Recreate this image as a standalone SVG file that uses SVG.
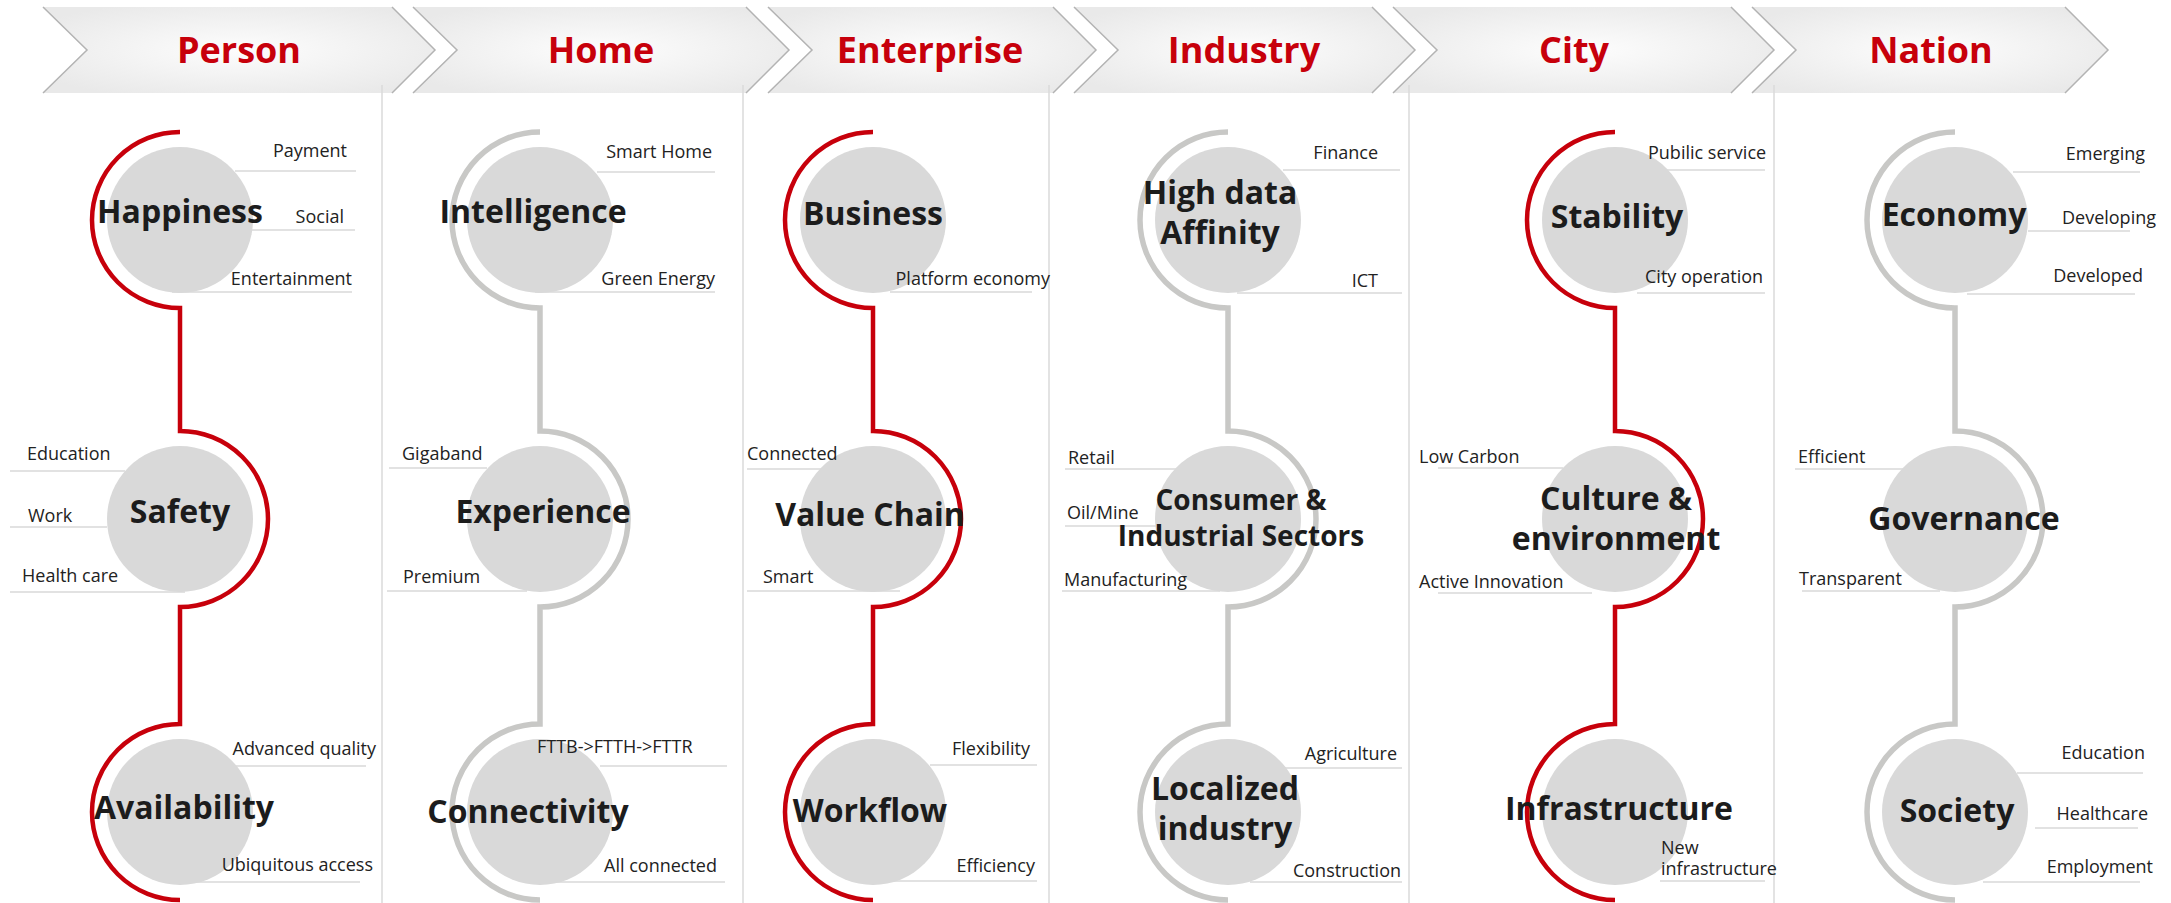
<svg xmlns="http://www.w3.org/2000/svg" width="2171" height="903" viewBox="0 0 2171 903">
<defs>
<radialGradient id="chev" cx="0.5" cy="0.5" r="0.6">
<stop offset="0" stop-color="#fdfdfd"/>
<stop offset="1" stop-color="#e9e9e9"/>
</radialGradient>
</defs>
<style>
.chev{fill:url(#chev);stroke:none}
.chevEdge{fill:none;stroke:#b3b3b3;stroke-width:1.5}
.hdr{font-family:"Open Sans","Liberation Sans",sans-serif;font-weight:700;font-size:36px;fill:#c7000b;text-anchor:middle}
.div{stroke:#dadada;stroke-width:1.5}
.red{fill:none;stroke:#c7000b;stroke-width:4.5}
.gray{fill:none;stroke:#c8c8c6;stroke-width:5.5}
.disc{fill:#d9d9d9}
.main{font-family:"Open Sans","Liberation Sans",sans-serif;font-weight:700;font-size:32px;fill:#1c1c1c;text-anchor:middle}
.main28{font-size:28px}
.lbl{font-family:"Open Sans","Liberation Sans",sans-serif;font-size:18px;fill:#222}
.end{text-anchor:end}
.ul{stroke:#d9d9d9;stroke-width:1.5}
</style>
<rect width="2171" height="903" fill="#ffffff"/>

<g id="headers">
<g id="hdr-person"><path class="chev" d="M43,7 L392,7 L435,50 L392,93 L43,93 L87,50 Z"/><path class="chevEdge" d="M43,7 L87,50 L43,93 M392,7 L435,50 L392,93"/><text class="hdr" x="239" y="63">Person</text></g>
<g id="hdr-home"><path class="chev" d="M413,7 L746,7 L789,50 L746,93 L413,93 L457,50 Z"/><path class="chevEdge" d="M413,7 L457,50 L413,93 M746,7 L789,50 L746,93"/><text class="hdr" x="601" y="63">Home</text></g>
<g id="hdr-enterprise"><path class="chev" d="M768,7 L1053,7 L1096,50 L1053,93 L768,93 L812,50 Z"/><path class="chevEdge" d="M768,7 L812,50 L768,93 M1053,7 L1096,50 L1053,93"/><text class="hdr" x="930" y="63">Enterprise</text></g>
<g id="hdr-industry"><path class="chev" d="M1074,7 L1372,7 L1415,50 L1372,93 L1074,93 L1118,50 Z"/><path class="chevEdge" d="M1074,7 L1118,50 L1074,93 M1372,7 L1415,50 L1372,93"/><text class="hdr" x="1244" y="63">Industry</text></g>
<g id="hdr-city"><path class="chev" d="M1393,7 L1731,7 L1774,50 L1731,93 L1393,93 L1437,50 Z"/><path class="chevEdge" d="M1393,7 L1437,50 L1393,93 M1731,7 L1774,50 L1731,93"/><text class="hdr" x="1574" y="63">City</text></g>
<g id="hdr-nation"><path class="chev" d="M1752,7 L2065,7 L2108,50 L2065,93 L1752,93 L1796,50 Z"/><path class="chevEdge" d="M1752,7 L1796,50 L1752,93 M2065,7 L2108,50 L2065,93"/><text class="hdr" x="1931" y="63">Nation</text></g>
</g>

<g id="dividers">
<line class="div" x1="382" y1="85" x2="382" y2="903"/>
<line class="div" x1="743" y1="85" x2="743" y2="903"/>
<line class="div" x1="1049" y1="85" x2="1049" y2="903"/>
<line class="div" x1="1409" y1="85" x2="1409" y2="903"/>
<line class="div" x1="1774" y1="85" x2="1774" y2="903"/>
</g>

<g id="connectors">
<path class="red" d="M180,132 A88,88 0 0 0 180,308 L180,431 A88,88 0 0 1 180,607 L180,724 A88,88 0 0 0 180,900"/>
<path class="gray" d="M540,132 A88,88 0 0 0 540,308 L540,431 A88,88 0 0 1 540,607 L540,724 A88,88 0 0 0 540,900"/>
<path class="red" d="M873,132 A88,88 0 0 0 873,308 L873,431 A88,88 0 0 1 873,607 L873,724 A88,88 0 0 0 873,900"/>
<path class="gray" d="M1228,132 A88,88 0 0 0 1228,308 L1228,431 A88,88 0 0 1 1228,607 L1228,724 A88,88 0 0 0 1228,900"/>
<path class="red" d="M1615,132 A88,88 0 0 0 1615,308 L1615,431 A88,88 0 0 1 1615,607 L1615,724 A88,88 0 0 0 1615,900"/>
<path class="gray" d="M1955,132 A88,88 0 0 0 1955,308 L1955,431 A88,88 0 0 1 1955,607 L1955,724 A88,88 0 0 0 1955,900"/>
</g>

<!-- Person -->
<g id="node-happiness">
<circle class="disc" cx="180" cy="220" r="73"/>
<line class="ul" x1="235" y1="171" x2="356" y2="171"/>
<line class="ul" x1="252" y1="230" x2="355" y2="230"/>
<line class="ul" x1="172" y1="292" x2="352" y2="292"/>
<text class="main" x="180" y="223">Happiness</text>
<text class="lbl end" x="347" y="157">Payment</text>
<text class="lbl end" x="344" y="223">Social</text>
<text class="lbl end" x="352" y="285">Entertainment</text>
</g>
<g id="node-safety">
<circle class="disc" cx="180" cy="519" r="73"/>
<line class="ul" x1="10" y1="471" x2="125" y2="471"/>
<line class="ul" x1="10" y1="527" x2="107" y2="527"/>
<line class="ul" x1="10" y1="592" x2="185" y2="592"/>
<text class="main" x="180" y="523">Safety</text>
<text class="lbl" x="27" y="460">Education</text>
<text class="lbl" x="28" y="522">Work</text>
<text class="lbl" x="22" y="582">Health care</text>
</g>
<g id="node-availability">
<circle class="disc" cx="180" cy="812" r="73"/>
<line class="ul" x1="235" y1="766" x2="366" y2="766"/>
<line class="ul" x1="192" y1="882" x2="360" y2="882"/>
<text class="main" x="184" y="819">Availability</text>
<text class="lbl end" x="376" y="755">Advanced quality</text>
<text class="lbl end" x="373" y="871">Ubiquitous access</text>
</g>

<!-- Home -->
<g id="node-intelligence">
<circle class="disc" cx="540" cy="220" r="73"/>
<line class="ul" x1="597" y1="172" x2="715" y2="172"/>
<line class="ul" x1="535" y1="292" x2="715" y2="292"/>
<text class="main" x="533" y="223">Intelligence</text>
<text class="lbl end" x="712" y="158">Smart Home</text>
<text class="lbl end" x="715" y="285">Green Energy</text>
</g>
<g id="node-experience">
<circle class="disc" cx="540" cy="519" r="73"/>
<line class="ul" x1="389" y1="468" x2="487" y2="468"/>
<line class="ul" x1="387" y1="591" x2="527" y2="591"/>
<text class="main" x="543" y="523">Experience</text>
<text class="lbl" x="402" y="460">Gigaband</text>
<text class="lbl" x="403" y="583">Premium</text>
</g>
<g id="node-connectivity">
<circle class="disc" cx="540" cy="812" r="73"/>
<line class="ul" x1="600" y1="766" x2="727" y2="766"/>
<line class="ul" x1="540" y1="882" x2="725" y2="882"/>
<text class="main" x="528" y="823">Connectivity</text>
<text class="lbl" x="537" y="753">FTTB-&gt;FTTH-&gt;FTTR</text>
<text class="lbl end" x="717" y="872">All connected</text>
</g>

<!-- Enterprise -->
<g id="node-business">
<circle class="disc" cx="873" cy="220" r="73"/>
<line class="ul" x1="890" y1="292" x2="1032" y2="292"/>
<text class="main" x="873" y="225">Business</text>
<text class="lbl end" x="1050" y="285">Platform economy</text>
</g>
<g id="node-value-chain">
<circle class="disc" cx="873" cy="519" r="73"/>
<line class="ul" x1="747" y1="469" x2="840" y2="469"/>
<line class="ul" x1="747" y1="591" x2="900" y2="591"/>
<text class="main" x="870" y="526">Value Chain</text>
<text class="lbl" x="747" y="460">Connected</text>
<text class="lbl" x="763" y="583">Smart</text>
</g>
<g id="node-workflow">
<circle class="disc" cx="873" cy="812" r="73"/>
<line class="ul" x1="930" y1="765" x2="1037" y2="765"/>
<line class="ul" x1="887" y1="881" x2="1037" y2="881"/>
<text class="main" x="870" y="822">Workflow</text>
<text class="lbl end" x="1030" y="755">Flexibility</text>
<text class="lbl end" x="1035" y="872">Efficiency</text>
</g>

<!-- Industry -->
<g id="node-high-data-affinity">
<circle class="disc" cx="1228" cy="220" r="73"/>
<line class="ul" x1="1283" y1="170" x2="1400" y2="170"/>
<line class="ul" x1="1237" y1="293" x2="1402" y2="293"/>
<text class="main" x="1220" y="204">High data</text>
<text class="main" x="1220" y="244">Affinity</text>
<text class="lbl end" x="1378" y="159">Finance</text>
<text class="lbl end" x="1378" y="287">ICT</text>
</g>
<g id="node-consumer-industrial">
<circle class="disc" cx="1228" cy="519" r="73"/>
<line class="ul" x1="1065" y1="469" x2="1183" y2="469"/>
<line class="ul" x1="1065" y1="526" x2="1160" y2="526"/>
<line class="ul" x1="1062" y1="591" x2="1220" y2="591"/>
<text class="main main28" x="1241" y="510">Consumer &amp;</text>
<text class="main main28" x="1241" y="546">Industrial Sectors</text>
<text class="lbl" x="1068" y="464">Retail</text>
<text class="lbl" x="1067" y="519">Oil/Mine</text>
<text class="lbl" x="1064" y="586">Manufacturing</text>
</g>
<g id="node-localized-industry">
<circle class="disc" cx="1228" cy="812" r="73"/>
<line class="ul" x1="1283" y1="768" x2="1402" y2="768"/>
<line class="ul" x1="1250" y1="882" x2="1402" y2="882"/>
<text class="main" x="1225" y="800">Localized</text>
<text class="main" x="1225" y="840">industry</text>
<text class="lbl end" x="1397" y="760">Agriculture</text>
<text class="lbl end" x="1401" y="877">Construction</text>
</g>

<!-- City -->
<g id="node-stability">
<circle class="disc" cx="1615" cy="220" r="73"/>
<line class="ul" x1="1650" y1="170" x2="1765" y2="170"/>
<line class="ul" x1="1637" y1="293" x2="1765" y2="293"/>
<text class="main" x="1617" y="228">Stability</text>
<text class="lbl" x="1648" y="159">Pubilic service</text>
<text class="lbl" x="1645" y="283">City operation</text>
</g>
<g id="node-culture-environment">
<circle class="disc" cx="1615" cy="519" r="73"/>
<line class="ul" x1="1438" y1="468" x2="1563" y2="468"/>
<line class="ul" x1="1438" y1="593" x2="1592" y2="593"/>
<text class="main" x="1616" y="510">Culture &amp;</text>
<text class="main" x="1616" y="550">environment</text>
<text class="lbl" x="1419" y="463">Low Carbon</text>
<text class="lbl" x="1419" y="588">Active Innovation</text>
</g>
<g id="node-infrastructure">
<circle class="disc" cx="1615" cy="812" r="73"/>
<line class="ul" x1="1660" y1="881" x2="1765" y2="881"/>
<text class="main" x="1619" y="820">Infrastructure</text>
<text class="lbl" x="1661" y="854">New</text>
<text class="lbl" x="1661" y="875">infrastructure</text>
</g>

<!-- Nation -->
<g id="node-economy">
<circle class="disc" cx="1955" cy="220" r="73"/>
<line class="ul" x1="2013" y1="172" x2="2140" y2="172"/>
<line class="ul" x1="2028" y1="231" x2="2130" y2="231"/>
<line class="ul" x1="1967" y1="294" x2="2135" y2="294"/>
<text class="main" x="1954" y="226">Economy</text>
<text class="lbl end" x="2145" y="160">Emerging</text>
<text class="lbl end" x="2156" y="224">Developing</text>
<text class="lbl end" x="2143" y="282">Developed</text>
</g>
<g id="node-governance">
<circle class="disc" cx="1955" cy="519" r="73"/>
<line class="ul" x1="1795" y1="469" x2="1907" y2="469"/>
<line class="ul" x1="1802" y1="591" x2="1940" y2="591"/>
<text class="main" x="1964" y="530">Governance</text>
<text class="lbl" x="1798" y="463">Efficient</text>
<text class="lbl" x="1799" y="585">Transparent</text>
</g>
<g id="node-society">
<circle class="disc" cx="1955" cy="812" r="73"/>
<line class="ul" x1="2017" y1="773" x2="2143" y2="773"/>
<line class="ul" x1="2035" y1="828" x2="2138" y2="828"/>
<line class="ul" x1="1983" y1="882" x2="2140" y2="882"/>
<text class="main" x="1957" y="822">Society</text>
<text class="lbl end" x="2145" y="759">Education</text>
<text class="lbl end" x="2148" y="820">Healthcare</text>
<text class="lbl end" x="2153" y="873">Employment</text>
</g>
</svg>
